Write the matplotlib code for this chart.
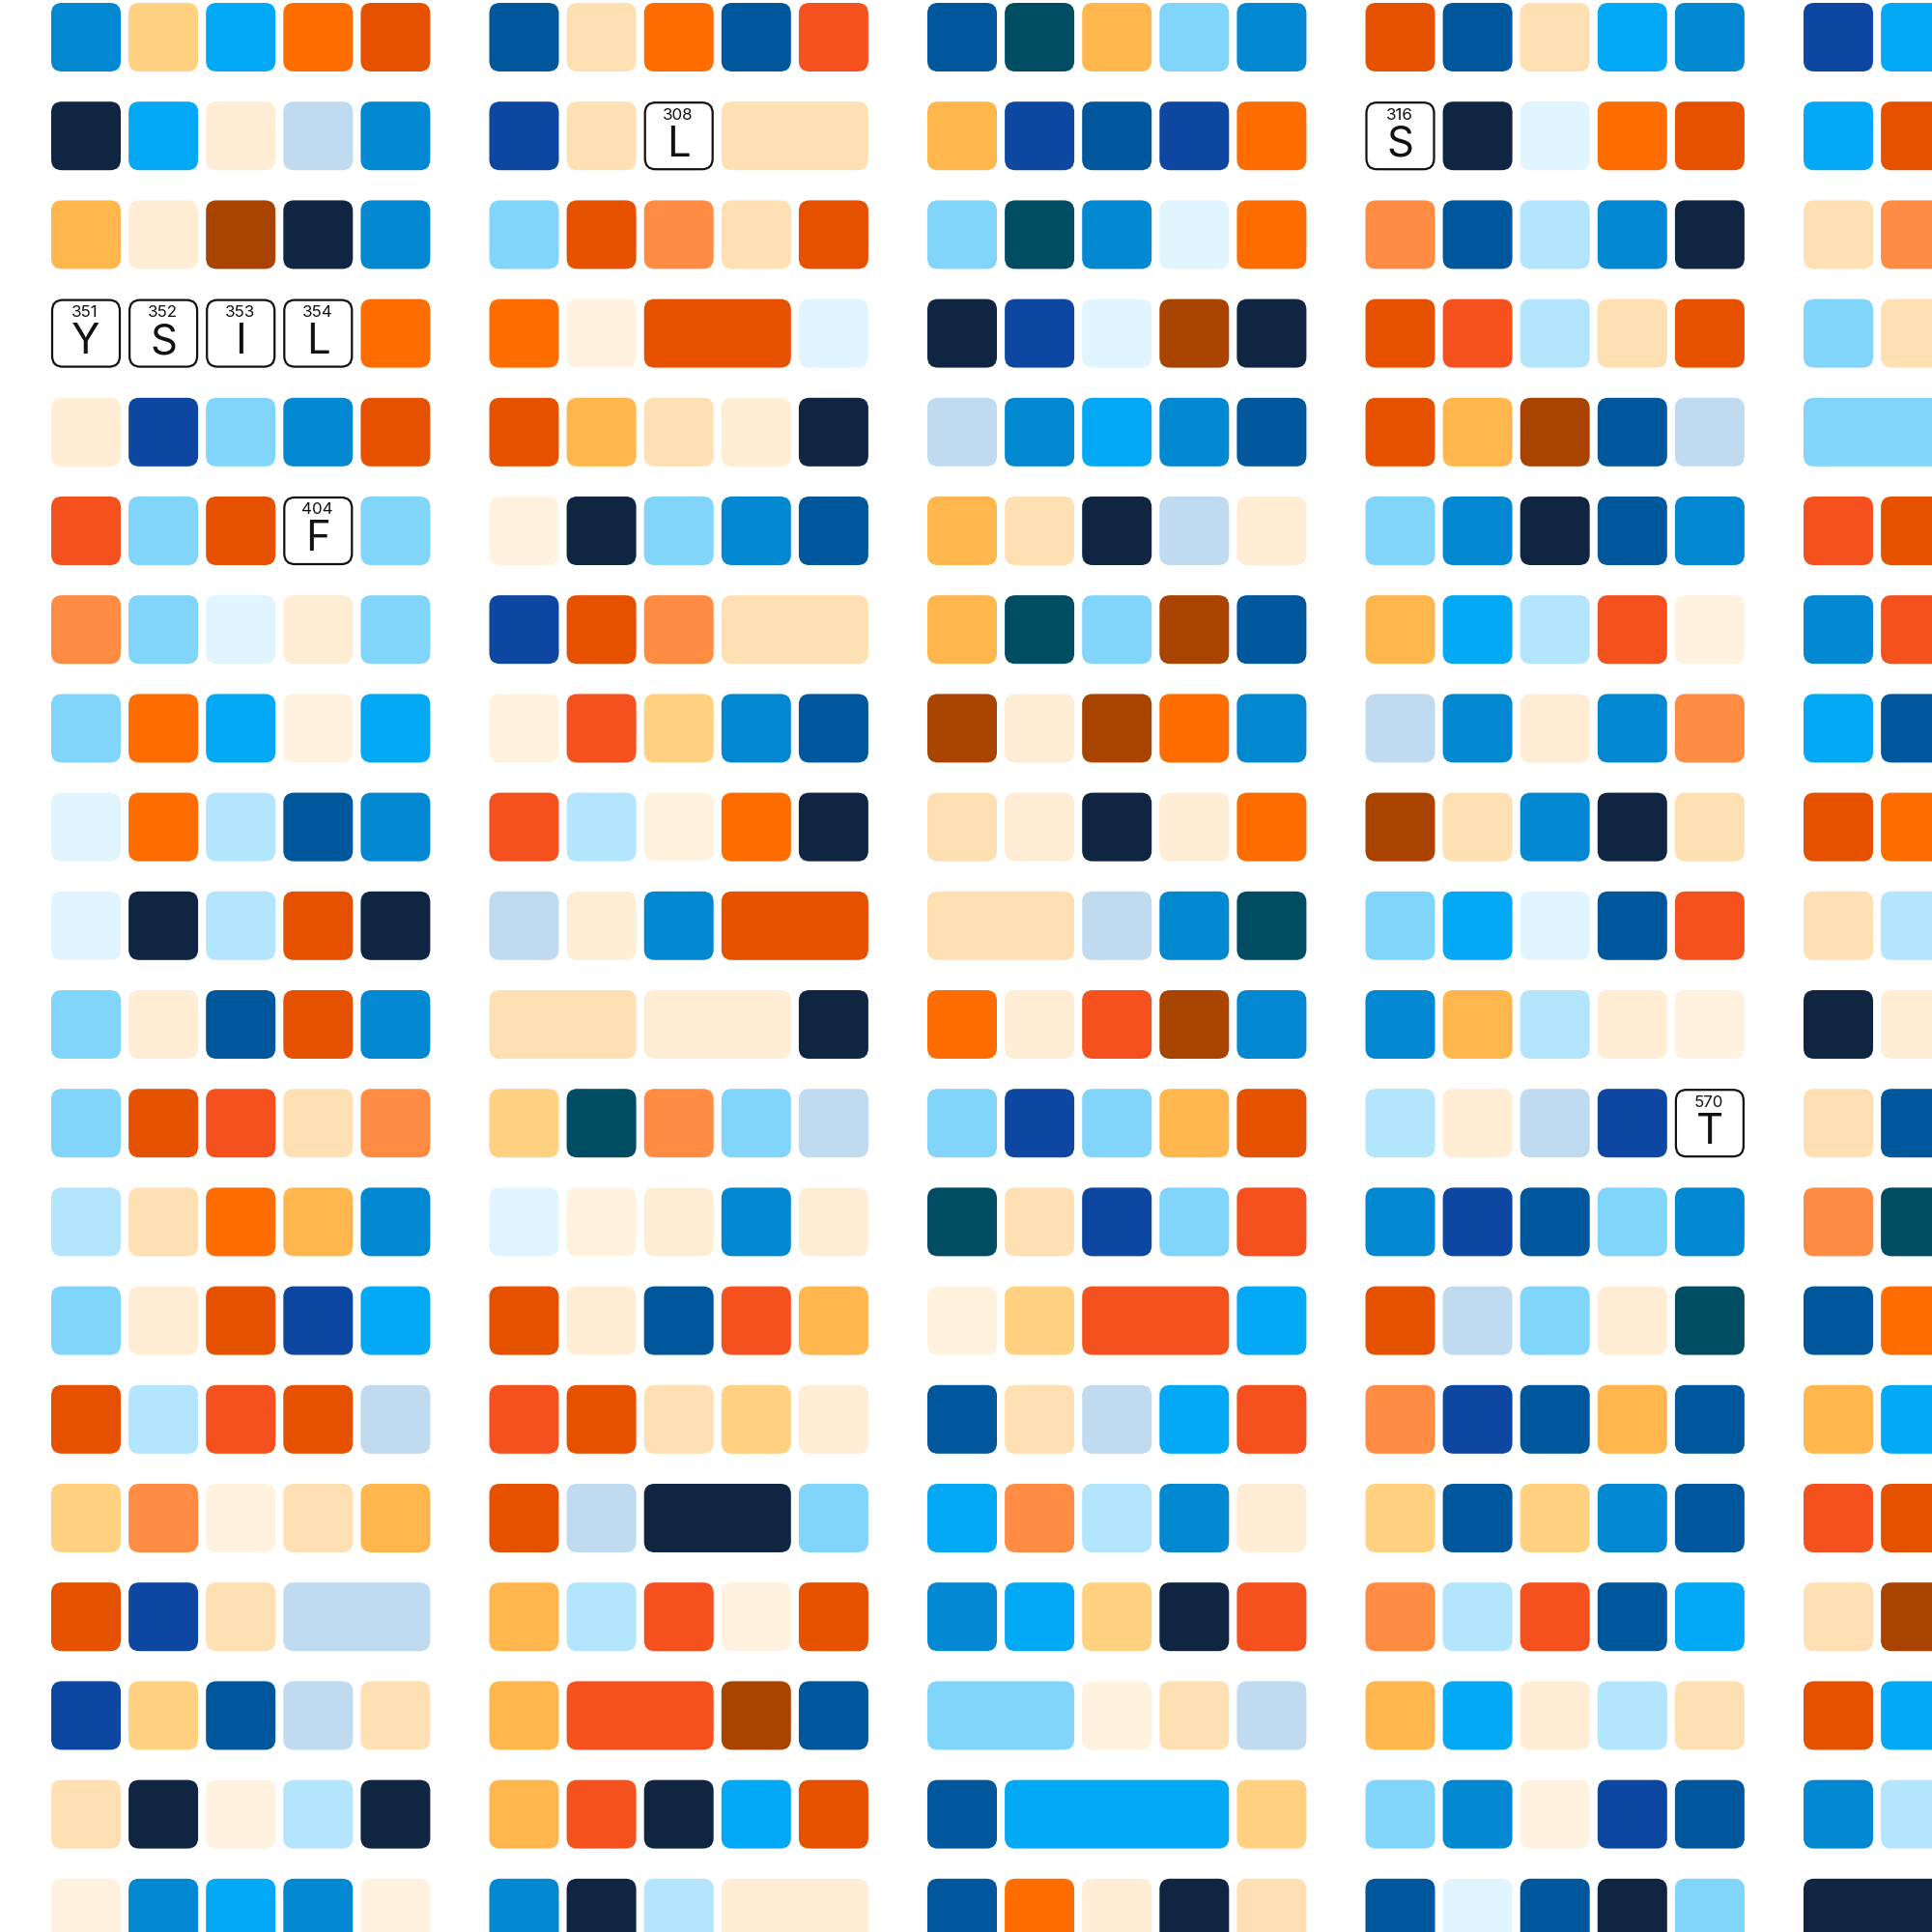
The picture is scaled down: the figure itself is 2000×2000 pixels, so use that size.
import matplotlib
matplotlib.use("Agg")
import matplotlib.pyplot as plt
from matplotlib.patches import FancyBboxPatch

# --- sequence grid: 25 residues per row, 5 blocks of 5 --- #

FIRST_RES  = 276
ROW_LEN    = 25

# colour code -> fill
PALETTE = {
    "N": "#0F2541", "B": "#0D47A1", "D": "#01579B", "M": "#0288D1",
    "C": "#03A9F4", "L": "#81D4FA", "P": "#B3E5FC", "W": "#E1F5FE",
    "G": "#C0DAF0", "T": "#004D63",
    "o": "#FFF3E0", "q": "#FFEDD5", "p": "#FFE0B2", "y": "#FFD180",
    "a": "#FFB74D", "f": "#FF8C42", "O": "#FF6D00", "R": "#E65100",
    "r": "#F4511E", "K": "#A84300",
}

# one string per row, blocks separated by spaces ('*' = highlighted residue)
rows = [
    "MyCOR DpODr DTaLM RDpCM BC",
    "NCqGM Bp*pp aBDBO *NWOR CR",
    "aqKNM LRfpR LTMWO fDPMN pf",
    "****O OoRRW NBWKN RrPpR Lp",
    "qBLMR RapqN GMCMD RaKDG LL",
    "rLR*L oNLMD apNGq LMNDM rR",
    "fLWqL BRfpp aTLKD aCPro Mr",
    "LOCoC oryMD KqKOM GMqMf CD",
    "WOPDM rPoON pqNqO KpMNp RO",
    "WNPRN GqMRR ppGMT LCWDr pP",
    "LqDRM ppqqN OqrKM MaPqo Nq",
    "LRrpf yTfLG LBLaR PqGB* pD",
    "PpOaM WoqMq TpBLr MBDLM fT",
    "LqRBC RqDra oyrrC RGLqT DO",
    "RPrRG rRpyq DpGCr fBDaD aC",
    "yfopa RGNNL CfPMq yDyMD rR",
    "RBpGG aProR MCyNr fPrDC pK",
    "ByDGp arrKD LLopG aCqPp RC",
    "pNoPN arNCR DCCCy LMoBD MP",
    "oMCMo MNPqq DOqNp DWDNL NN",
]

# highlighted residues: number, one-letter code
hl_nums    = [308, 316, 351, 352, 353, 354, 404, 570]
hl_letters = ["L", "S", "Y", "S", "I", "L", "F", "T"]

# --- layout in pixels --- #
X0, Y0      = 53, 3
CELL_STEP   = 80.1
BLOCK_STEP  = 453.5
ROW_STEP    = 102.2
CELL_W      = 72
CELL_H      = 71
RADIUS      = 11

fig = plt.figure(figsize=(10, 10), dpi=200)
ax = fig.add_axes([0, 0, 1, 1])
ax.set_xlim(0, 2000)
ax.set_ylim(2000, 0)
ax.axis("off")

def cell_x(block, cell):
    return X0 + block * BLOCK_STEP + cell * CELL_STEP

for r, line in enumerate(rows):
    y = Y0 + r * ROW_STEP
    for b, block in enumerate(line.split()):
        c = 0
        while c < len(block):
            code = block[c]
            n = 1
            # runs of the same colour are drawn as one bar
            while code != "*" and c + n < len(block) and block[c + n] == code:
                n += 1
            if code != "*":
                x = cell_x(b, c)
                w = cell_x(b, c + n - 1) + CELL_W - x
                ax.add_patch(FancyBboxPatch(
                    (x, y), w, CELL_H,
                    boxstyle=f"round,pad=0,rounding_size={RADIUS}",
                    facecolor=PALETTE[code], edgecolor="none"))
            c += n

# --- highlighted residues --- #
for num, letter in zip(hl_nums, hl_letters):
    idx = num - FIRST_RES
    r, col = idx // ROW_LEN, idx % ROW_LEN
    b, c = col // 5, col % 5
    x = cell_x(b, c)
    y = Y0 + r * ROW_STEP
    ax.add_patch(FancyBboxPatch(
        (x + 1, y + 1), CELL_W - 2, CELL_H - 2,
        boxstyle=f"round,pad=0,rounding_size={RADIUS}",
        facecolor="white", edgecolor="#111111", linewidth=0.8))
    ax.text(x + CELL_W / 2 - 1, y + 18.5, str(num), ha="center", va="baseline",
            fontsize=6.1, family="Inter", color="#111111")
    ax.text(x + CELL_W / 2, y + 56.5, letter, ha="center", va="baseline",
            fontsize=15.7, family="Inter", color="#111111")

fig.savefig("out.png", dpi=200, facecolor="white")
